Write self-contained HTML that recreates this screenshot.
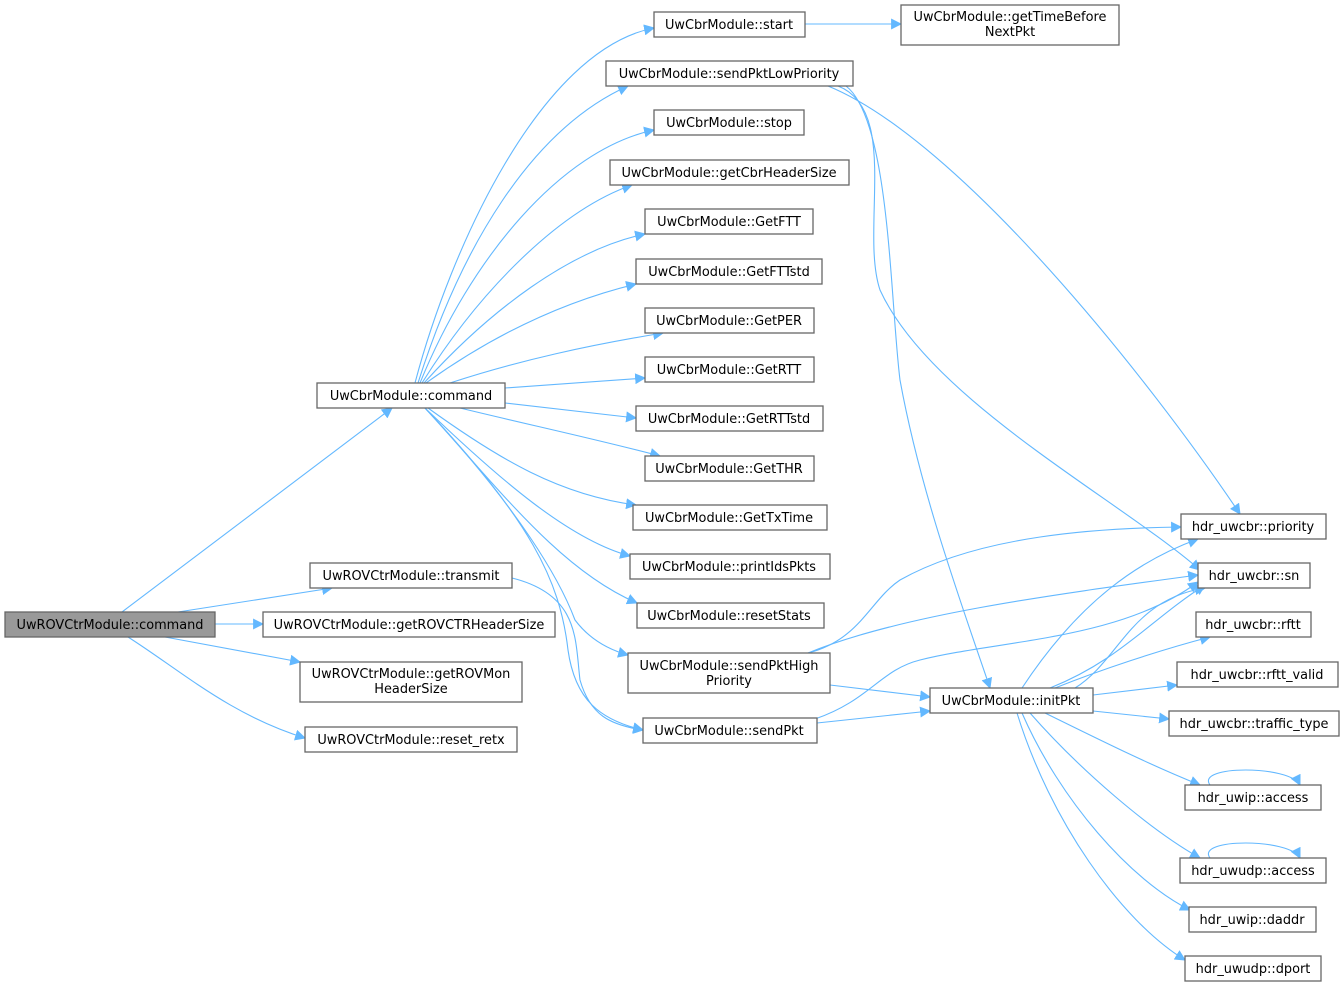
<!DOCTYPE html>
<html><head><meta charset="utf-8"><style>
html,body{margin:0;padding:0;background:#fff;width:1344px;height:989px;overflow:hidden}
svg{display:block}
text{font-family:"DejaVu Sans","Liberation Sans",sans-serif;font-size:12.9px;fill:#000}
.b{fill:#fff;stroke:#666;stroke-width:1.3}
.e{fill:none;stroke:#63b8ff;stroke-width:1.1}
</style></head><body>
<svg width="1344" height="989" viewBox="0 0 1344 989" xmlns="http://www.w3.org/2000/svg">
<defs><marker id="a" viewBox="0 0 10 10" refX="9" refY="5" markerWidth="11" markerHeight="11" markerUnits="userSpaceOnUse" orient="auto"><path d="M0,0L10,5L0,10z" fill="#63b8ff"/></marker></defs>
<g class="e" marker-end="url(#a)">
<path d="M122,612 L392,408"/>
<path d="M178,612 L332,588"/>
<path d="M215,624 L263,624"/>
<path d="M165,637 L300,662"/>
<path d="M128,637 C180,670 230,715 305,738"/>
<path d="M512,578 C580,595 575,640 580,680 C590,715 610,725 643,730"/>
<path d="M415,383 C450,250 540,50 654,28"/>
<path d="M418,383 C460,250 530,130 628,86"/>
<path d="M420,383 C470,260 560,150 654,130"/>
<path d="M422,383 C480,290 560,210 632,185"/>
<path d="M424,383 C490,310 570,250 645,234"/>
<path d="M426,383 C500,330 570,300 636,284"/>
<path d="M450,383 C520,360 590,345 663,333"/>
<path d="M505,388 L645,378"/>
<path d="M505,403 L636,418"/>
<path d="M460,408 C530,425 600,440 660,456"/>
<path d="M428,408 C500,460 560,495 636,505"/>
<path d="M425,408 C500,480 570,540 630,556"/>
<path d="M425,408 C500,490 560,570 637,603"/>
<path d="M425,408 C520,510 560,580 575,620 C590,640 610,650 628,655"/>
<path d="M425,408 C530,520 560,580 568,650 C575,700 600,720 643,730"/>
<path d="M805,24 L901,24"/>
<path d="M828,86 C960,140 1150,380 1240,514"/>
<path d="M838,86 C900,110 860,230 880,290 C930,400 1120,500 1200,570"/>
<path d="M846,86 C890,120 890,300 900,380 C920,490 960,600 990,688"/>
<path d="M808,653 C860,640 870,600 900,580 C980,535 1100,528 1181,527"/>
<path d="M808,653 C900,615 1050,595 1198,575"/>
<path d="M830,685 L930,697"/>
<path d="M815,719 C870,700 880,670 920,660 C1000,640 1120,640 1198,582"/>
<path d="M817,723 L930,711"/>
<path d="M1022,688 C1080,600 1140,560 1198,539"/>
<path d="M1075,688 C1120,660 1130,600 1205,588"/>
<path d="M1050,688 C1120,660 1150,620 1205,585"/>
<path d="M1055,688 C1100,670 1160,650 1210,637"/>
<path d="M1093,695 L1177,685"/>
<path d="M1093,711 L1169,719"/>
<path d="M1045,713 C1100,740 1150,765 1200,785"/>
<path d="M1030,713 C1080,770 1150,830 1200,858"/>
<path d="M1022,713 C1060,800 1130,880 1190,910"/>
<path d="M1017,713 C1050,820 1120,920 1185,960"/>
<path d="M1210,785 C1195,765 1290,765 1300,785"/>
<path d="M1210,858 C1195,838 1290,838 1300,858"/>
</g>
<rect x="5" y="612" width="210" height="25" fill="#999" stroke="#666" stroke-width="1.3"/>
<text x="110" y="629" text-anchor="middle">UwROVCtrModule::command</text>
<g text-anchor="middle">
<rect class="b" x="317" y="383" width="188" height="25"/><text x="411" y="400">UwCbrModule::command</text>
<rect class="b" x="310" y="563" width="202" height="25"/><text x="411" y="580">UwROVCtrModule::transmit</text>
<rect class="b" x="263" y="612" width="292" height="25"/><text x="409" y="629">UwROVCtrModule::getROVCTRHeaderSize</text>
<rect class="b" x="300" y="662" width="222" height="40"/><text x="411" y="678">UwROVCtrModule::getROVMon</text><text x="411" y="693">HeaderSize</text>
<rect class="b" x="305" y="727" width="212" height="25"/><text x="411" y="744">UwROVCtrModule::reset_retx</text>
<rect class="b" x="654" y="12" width="151" height="25"/><text x="729" y="29">UwCbrModule::start</text>
<rect class="b" x="901" y="5" width="218" height="40"/><text x="1010" y="21">UwCbrModule::getTimeBefore</text><text x="1010" y="36">NextPkt</text>
<rect class="b" x="606" y="61" width="247" height="25"/><text x="729" y="78">UwCbrModule::sendPktLowPriority</text>
<rect class="b" x="654" y="110" width="150" height="25"/><text x="729" y="127">UwCbrModule::stop</text>
<rect class="b" x="610" y="160" width="239" height="25"/><text x="729" y="177">UwCbrModule::getCbrHeaderSize</text>
<rect class="b" x="645" y="209" width="168" height="25"/><text x="729" y="226">UwCbrModule::GetFTT</text>
<rect class="b" x="636" y="259" width="186" height="25"/><text x="729" y="276">UwCbrModule::GetFTTstd</text>
<rect class="b" x="645" y="308" width="169" height="25"/><text x="729" y="325">UwCbrModule::GetPER</text>
<rect class="b" x="645" y="357" width="169" height="25"/><text x="729" y="374">UwCbrModule::GetRTT</text>
<rect class="b" x="636" y="406" width="187" height="25"/><text x="729" y="423">UwCbrModule::GetRTTstd</text>
<rect class="b" x="645" y="456" width="169" height="25"/><text x="729" y="473">UwCbrModule::GetTHR</text>
<rect class="b" x="633" y="505" width="194" height="25"/><text x="729" y="522">UwCbrModule::GetTxTime</text>
<rect class="b" x="630" y="554" width="200" height="25"/><text x="729" y="571">UwCbrModule::printIdsPkts</text>
<rect class="b" x="637" y="603" width="187" height="25"/><text x="729" y="620">UwCbrModule::resetStats</text>
<rect class="b" x="628" y="653" width="202" height="40"/><text x="729" y="670">UwCbrModule::sendPktHigh</text><text x="729" y="685">Priority</text>
<rect class="b" x="643" y="718" width="174" height="25"/><text x="729" y="735">UwCbrModule::sendPkt</text>
<rect class="b" x="930" y="688" width="163" height="25"/><text x="1011" y="705">UwCbrModule::initPkt</text>
<rect class="b" x="1181" y="514" width="145" height="25"/><text x="1253" y="531">hdr_uwcbr::priority</text>
<rect class="b" x="1198" y="563" width="112" height="25"/><text x="1254" y="580">hdr_uwcbr::sn</text>
<rect class="b" x="1196" y="612" width="115" height="25"/><text x="1253" y="629">hdr_uwcbr::rftt</text>
<rect class="b" x="1177" y="662" width="161" height="25"/><text x="1257" y="679">hdr_uwcbr::rftt_valid</text>
<rect class="b" x="1169" y="711" width="170" height="25"/><text x="1254" y="728">hdr_uwcbr::traffic_type</text>
<rect class="b" x="1185" y="785" width="136" height="25"/><text x="1253" y="802">hdr_uwip::access</text>
<rect class="b" x="1180" y="858" width="146" height="25"/><text x="1253" y="875">hdr_uwudp::access</text>
<rect class="b" x="1189" y="907" width="127" height="25"/><text x="1252" y="924">hdr_uwip::daddr</text>
<rect class="b" x="1185" y="956" width="136" height="25"/><text x="1253" y="973">hdr_uwudp::dport</text>
</g>
</svg>
</body></html>
